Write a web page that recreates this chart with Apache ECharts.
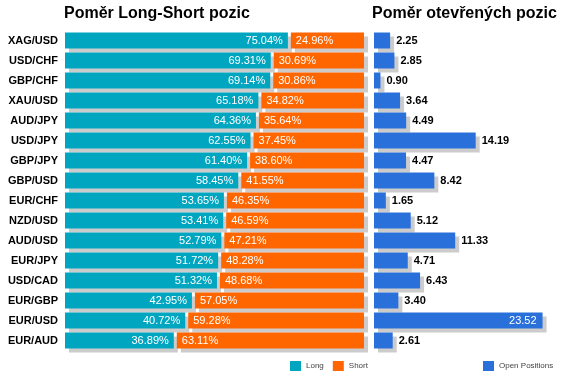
<!DOCTYPE html>
<html><head><meta charset="utf-8">
<script src="https://cdn.jsdelivr.net/npm/echarts@6/dist/echarts.min.js"></script>
<style>html,body{margin:0;padding:0;background:#fff}#c{width:572px;height:382px}</style>
</head><body><div id="c"></div>
<script>
var pairs = ['XAG/USD','USD/CHF','GBP/CHF','XAU/USD','AUD/JPY','USD/JPY','GBP/JPY','GBP/USD','EUR/CHF','NZD/USD','AUD/USD','EUR/JPY','USD/CAD','EUR/GBP','EUR/USD','EUR/AUD'];
var longPct = [75.04,69.31,69.14,65.18,64.36,62.55,61.40,58.45,53.65,53.41,52.79,51.72,51.32,42.95,40.72,36.89];
var shortPct = [24.96,30.69,30.86,34.82,35.64,37.45,38.60,41.55,46.35,46.59,47.21,48.28,48.68,57.05,59.28,63.11];
var openPos = [2.25,2.85,0.90,3.64,4.49,14.19,4.47,8.42,1.65,5.12,11.33,4.71,6.43,3.40,23.52,2.61];

var FONT = '"Liberation Sans", Arial, sans-serif';
var TEAL = '#00a6c0', ORANGE = '#ff6600', BLUE = '#2a70da';
var shadow = {shadowColor:'#cccccc', shadowBlur:0, shadowOffsetX:4, shadowOffsetY:4};
var chart = echarts.init(document.getElementById('c'), null, {renderer:'canvas'});
var openData = openPos.map(function(v){
  return v > 20 ? {value:v, label:{position:'insideRight', color:'#fff', fontWeight:'normal', distance:6}} : v;
});
var lsData = pairs.map(function(p, i){ return [i, longPct[i], shortPct[i]]; });

function makeRender(isLong){
  return function(params, api){
    var idx = api.value(0), l = api.value(1), s = api.value(2);
    var from = isLong ? 0 : l, to = isLong ? l : l + s;
    var a = api.coord([from, idx]), b = api.coord([to, idx]);
    var h = api.size([0, 1])[1] * 0.8;
    var x0 = a[0] + (isLong ? 0 : 1.5), x1 = b[0] - (isLong ? 1.5 : 0);
    return {
      type:'rect',
      shape:{x:x0, y:a[1] - h/2, width:x1 - x0, height:h},
      style:Object.assign({fill: isLong ? TEAL : ORANGE}, shadow),
      textContent:{style:{text:(isLong ? l : s).toFixed(2) + '%', fill:'#fff', fontSize:11, fontFamily:FONT}},
      textConfig:{position: isLong ? 'insideRight' : 'insideLeft', distance:5}
    };
  };
}

chart.setOption({
  animation:false,
  textStyle:{fontFamily:FONT},
  title:[
    {text:'Poměr Long-Short pozic', left:64, top:6, padding:0, textStyle:{fontSize:16, fontWeight:'bold', color:'#000', fontFamily:FONT}},
    {text:'Poměr otevřených pozic', left:372, top:6, padding:0, textStyle:{fontSize:16, fontWeight:'bold', color:'#000', fontFamily:FONT}}
  ],
  legend:[
    {data:['Long','Short'], left:290, top:361, padding:0, itemWidth:11, itemHeight:10, itemGap:9, icon:'rect', textStyle:{fontSize:8, color:'#444', fontFamily:FONT}},
    {data:['Open Positions'], left:483, top:361, padding:0, itemWidth:11, itemHeight:10, icon:'rect', textStyle:{fontSize:8, color:'#444', fontFamily:FONT}}
  ],
  grid:[
    {left:65, width:299, top:30.5, height:320},
    {left:374, width:172, top:30.5, height:320}
  ],
  xAxis:[
    {gridIndex:0, type:'value', min:0, max:100, show:false},
    {gridIndex:1, type:'value', min:0, max:24, show:false}
  ],
  yAxis:[
    {gridIndex:0, type:'category', data:pairs, inverse:true, axisLine:{show:false}, axisTick:{show:false},
     axisLabel:{fontSize:11, fontWeight:'bold', color:'#000', margin:7, fontFamily:FONT}},
    {gridIndex:1, type:'category', data:pairs, inverse:true, show:false}
  ],
  series:[
    {name:'Long', type:'custom', xAxisIndex:0, yAxisIndex:0, data:lsData, encode:{x:1, y:0},
     itemStyle:{color:TEAL}, renderItem:makeRender(true)},
    {name:'Short', type:'custom', xAxisIndex:0, yAxisIndex:0, data:lsData, encode:{x:2, y:0},
     itemStyle:{color:ORANGE}, renderItem:makeRender(false)},
    {name:'Open Positions', type:'bar', xAxisIndex:1, yAxisIndex:1, data:openData, barCategoryGap:'20%',
     itemStyle:Object.assign({color:BLUE}, shadow),
     label:{show:true, position:'right', distance:6, color:'#000', fontSize:11, fontWeight:'bold', fontFamily:FONT,
       formatter:function(p){return p.value.toFixed(2);}}}
  ]
});
</script></body></html>
